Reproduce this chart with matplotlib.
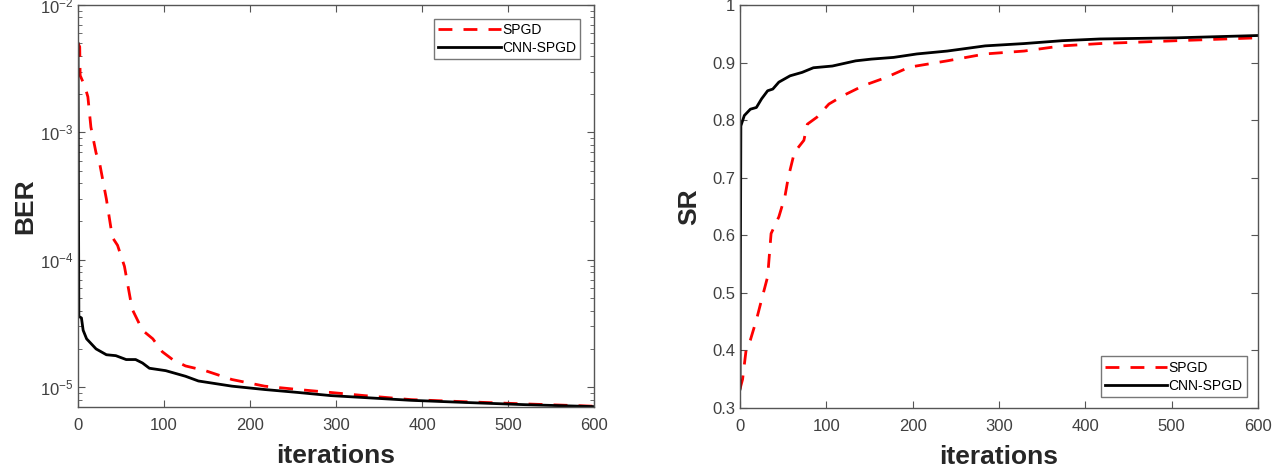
import numpy as np
import matplotlib
matplotlib.use('Agg')
import matplotlib.pyplot as plt
from matplotlib.ticker import LogLocator, NullFormatter

plt.rcParams['font.family'] = ['Liberation Sans', 'DejaVu Sans']

# BER curves
ber_spgd_it = [0, 2, 2.5, 8, 11.5, 15, 21, 25, 33, 40, 46, 54, 58, 63, 75, 87, 98, 110, 125,
               148, 179, 217, 256, 294, 333, 387, 450, 520, 600]
ber_spgd = [5.0e-3, 4.7e-3, 2.8e-3, 2.3e-3, 1.9e-3, 1.1e-3, 6.9e-4, 5.8e-4, 3.0e-4, 1.5e-4,
            1.3e-4, 8.9e-5, 6.3e-5, 4.1e-5, 2.8e-5, 2.4e-5, 1.9e-5, 1.65e-5, 1.47e-5,
            1.35e-5, 1.15e-5, 1.02e-5, 9.6e-6, 9.1e-6, 8.6e-6, 8.0e-6, 7.7e-6, 7.4e-6, 7.1e-6]
ber_cnn_it = [0, 1, 4, 6, 10, 21, 33, 44, 56, 67, 75, 83, 102, 125, 140, 179, 217, 256, 294,
              333, 387, 450, 520, 600]
ber_cnn = [5.0e-3, 3.6e-5, 3.5e-5, 2.8e-5, 2.4e-5, 2.0e-5, 1.8e-5, 1.77e-5, 1.65e-5, 1.65e-5,
           1.55e-5, 1.41e-5, 1.35e-5, 1.22e-5, 1.12e-5, 1.02e-5, 9.6e-6, 9.1e-6, 8.6e-6,
           8.3e-6, 7.9e-6, 7.6e-6, 7.3e-6, 7.05e-6]

# SR curves
sr_cnn_it = [0, 1, 5, 12, 19, 25, 32, 38, 45, 58, 72, 85, 107, 134, 152, 178, 205, 240, 284,
             329, 373, 417, 506, 600]
sr_cnn = [0.333, 0.79, 0.808, 0.819, 0.822, 0.837, 0.851, 0.854, 0.866, 0.877, 0.883, 0.891,
          0.894, 0.903, 0.906, 0.909, 0.915, 0.920, 0.929, 0.933, 0.938, 0.941, 0.943, 0.947]
sr_spgd_it = [0, 3, 7, 12, 19, 25, 32, 36, 45, 52, 56, 63, 74, 78, 89, 103, 120, 143, 169,
              196, 240, 284, 329, 373, 417, 506, 600]
sr_spgd = [0.333, 0.35, 0.40, 0.418, 0.453, 0.488, 0.528, 0.603, 0.632, 0.667, 0.701, 0.744,
           0.765, 0.793, 0.805, 0.828, 0.843, 0.860, 0.874, 0.892, 0.903, 0.915, 0.920, 0.929,
           0.933, 0.938, 0.943]

fig = plt.figure(figsize=(12.8, 4.67), dpi=100)
ax1 = fig.add_axes([78 / 1280, 1 - 407 / 467, (594 - 78) / 1280, 402 / 467])
ax2 = fig.add_axes([740 / 1280, 1 - 408 / 467, (1258 - 740) / 1280, 403 / 467])

edge = '#262626'
tick_col = '#404040'


def style(ax):
    for s in ax.spines.values():
        s.set_color('#555555')
        s.set_linewidth(1.0)
    ax.tick_params(direction='in', top=True, right=True, colors='#555555',
                   labelcolor=tick_col, labelsize=12, length=5)
    ax.tick_params(axis='x', pad=8)
    ax.tick_params(which='minor', direction='in', top=True, right=True, colors='#555555', length=3)
    ax.set_xlim(0, 600)
    ax.set_xticks(np.arange(0, 601, 100))
    ax.set_xlabel('iterations', fontsize=19, fontweight='bold', color=edge, labelpad=8)


# left: BER
ax1.semilogy(ber_spgd_it, ber_spgd, '--', color='#ff0000', lw=2, label='SPGD', dashes=(5, 4))
ax1.semilogy(ber_cnn_it, ber_cnn, '-', color='black', lw=2, label='CNN-SPGD')
ax1.set_ylim(7.0e-6, 1e-2)
ax1.yaxis.set_major_locator(LogLocator(base=10, numticks=10))
ax1.yaxis.set_minor_locator(LogLocator(base=10, subs=np.arange(2, 10), numticks=10))
ax1.yaxis.set_minor_formatter(NullFormatter())
style(ax1)
ax1.set_ylabel('BER', fontsize=19, fontweight='bold', color=edge, labelpad=2)
leg1 = ax1.legend(loc='upper right', fontsize=10, frameon=True, fancybox=False,
                  edgecolor='#555555', handlelength=4.5, borderaxespad=1.0,
                  handletextpad=0.1, labelspacing=0.3, borderpad=0.3)
leg1.get_frame().set_linewidth(1.0)

# right: SR
ax2.plot(sr_spgd_it, sr_spgd, '--', color='#ff0000', lw=2, label='SPGD', dashes=(5, 4))
ax2.plot(sr_cnn_it, sr_cnn, '-', color='black', lw=2, label='CNN-SPGD')
ax2.set_ylim(0.3, 1.0)
ax2.set_yticks(np.arange(0.3, 1.01, 0.1))
ax2.set_yticklabels(['0.3', '0.4', '0.5', '0.6', '0.7', '0.8', '0.9', '1'])
style(ax2)
ax2.set_ylabel('SR', fontsize=19, fontweight='bold', color=edge, labelpad=8)
leg2 = ax2.legend(loc='lower right', fontsize=10, frameon=True, fancybox=False,
                  edgecolor='#555555', handlelength=4.5, borderaxespad=0.8,
                  handletextpad=0.1, labelspacing=0.3, borderpad=0.3)
leg2.get_frame().set_linewidth(1.0)

fig.savefig('out.png', dpi=100)
